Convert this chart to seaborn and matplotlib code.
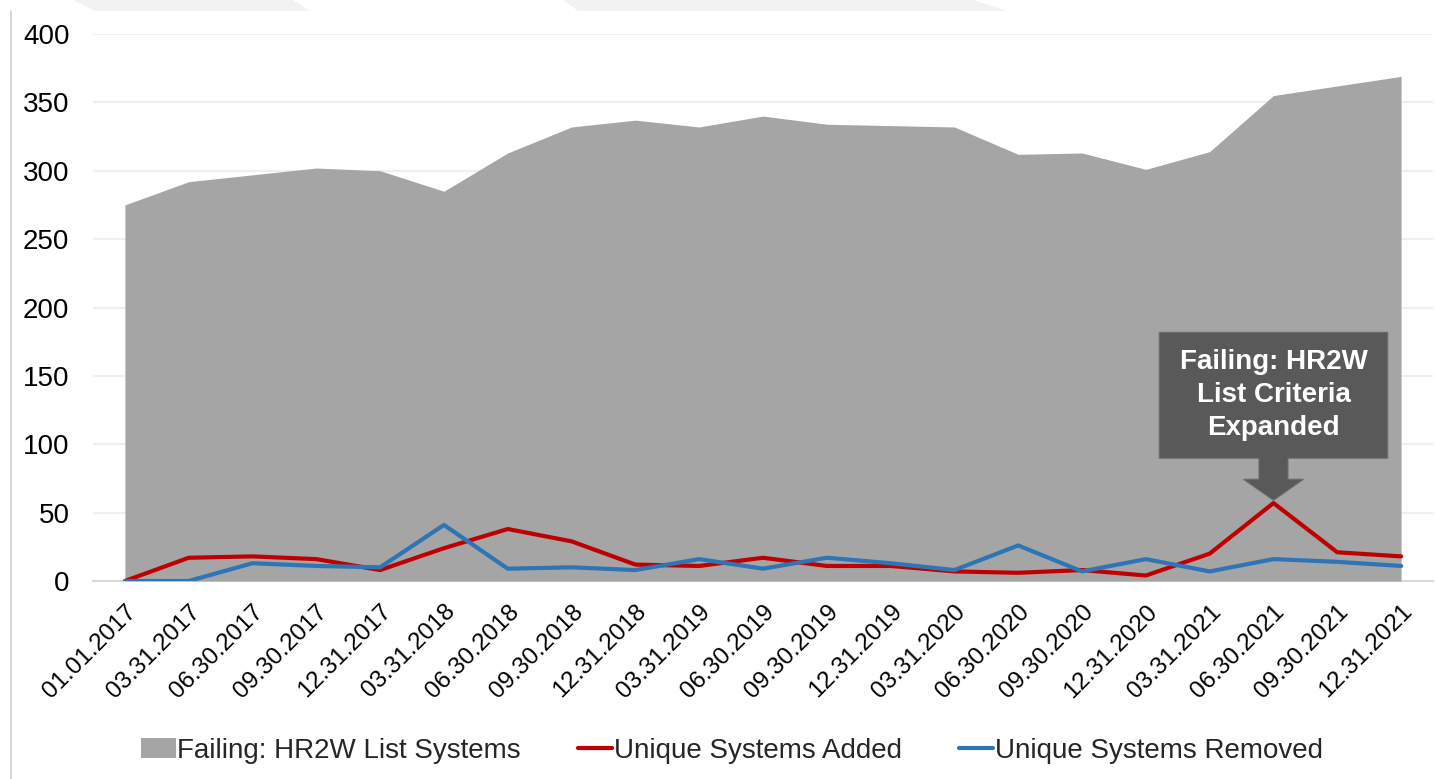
import matplotlib
matplotlib.use("Agg")
import matplotlib.pyplot as plt
from matplotlib.patches import Polygon, Patch
from matplotlib.lines import Line2D
import seaborn as sns
import pandas as pd
import numpy as np

# Quarter-end reporting dates
dates = ["01.01.2017", "03.31.2017", "06.30.2017", "09.30.2017", "12.31.2017",
         "03.31.2018", "06.30.2018", "09.30.2018", "12.31.2018",
         "03.31.2019", "06.30.2019", "09.30.2019", "12.31.2019",
         "03.31.2020", "06.30.2020", "09.30.2020", "12.31.2020",
         "03.31.2021", "06.30.2021", "09.30.2021", "12.31.2021"]

# Systems on the failing list at each date
failing = [275, 292, 297, 302, 300, 285, 313, 332, 337, 332, 340,
           334, 333, 332, 312, 313, 301, 314, 355, 362, 369]

# Systems added to / removed from the list during each quarter
added = [0, 17, 18, 16, 8, 24, 38, 29, 12, 11, 17,
         11, 11, 7, 6, 8, 4, 20, 57, 21, 18]
removed = [0, 0, 13, 11, 10, 41, 9, 10, 8, 16, 9,
           17, 13, 8, 26, 7, 16, 7, 16, 14, 11]

y_ticks = [0, 50, 100, 150, 200, 250, 300, 350, 400]

AREA = "#a5a5a5"
RED = "#c00000"
BLUE = "#2e75b6"
BOX = "#595959"
LW = 3.0

sns.set_theme(style="white")
plt.rcParams["font.family"] = ["Liberation Sans", "DejaVu Sans"]

df = pd.DataFrame({"date": dates, "failing": failing,
                   "added": added, "removed": removed})
df["pos"] = np.arange(len(df))

fig = plt.figure(figsize=(14.35, 7.79), dpi=100)
ax = fig.add_axes([93 / 1435, 198 / 779, 1340 / 1435, 547 / 779])

ax.fill_between(df["pos"], 0, df["failing"], color=AREA, linewidth=0, zorder=2)
sns.lineplot(data=df, x="pos", y="added", color=RED, linewidth=LW,
             ax=ax, zorder=3)
sns.lineplot(data=df, x="pos", y="removed", color=BLUE, linewidth=LW,
             ax=ax, zorder=3)

ax.set_xlim(-0.5, len(dates) - 0.5)
ax.set_ylim(0, 400)
ax.set_yticks(y_ticks)
ax.set_yticklabels([str(v) for v in y_ticks], fontsize=20, color="#000000")
ax.set_xticks(df["pos"])
ax.set_xticklabels(dates, fontsize=17.5, rotation=45, ha="right",
                   va="top", rotation_mode="anchor", color="#000000")
ax.tick_params(axis="y", length=0, pad=17)
ax.tick_params(axis="x", length=0, pad=14)
ax.set_xlabel("")
ax.set_ylabel("")
ax.grid(axis="y", color="#efefef", linewidth=1.5, zorder=0)
ax.set_axisbelow(True)
for side in ["top", "right", "left"]:
    ax.spines[side].set_visible(False)
ax.spines["bottom"].set_color("#d9d9d9")
ax.spines["bottom"].set_linewidth(1.5)
ax.spines["bottom"].set_zorder(1)

# Callout pointing at the peak of additions
peak = int(np.argmax(added))
tip_x, tip_y = peak, added[peak] + 2
head_w, shaft_w = 0.47, 0.227
head_h, shaft_h = 15.4, 15.4
box_w, box_h = 1.79, 92
base = tip_y + head_h + shaft_h
callout = Polygon([
    (tip_x, tip_y),
    (tip_x + head_w, tip_y + head_h),
    (tip_x + shaft_w, tip_y + head_h),
    (tip_x + shaft_w, base),
    (tip_x + box_w, base),
    (tip_x + box_w, base + box_h),
    (tip_x - box_w, base + box_h),
    (tip_x - box_w, base),
    (tip_x - shaft_w, base),
    (tip_x - shaft_w, tip_y + head_h),
    (tip_x - head_w, tip_y + head_h),
], closed=True, facecolor=BOX, edgecolor="#6b6b6b", linewidth=0.8, zorder=5)
ax.add_patch(callout)
ax.text(tip_x, base + box_h / 2, "Failing: HR2W\nList Criteria\nExpanded",
        color="white", fontsize=20, fontweight="bold", ha="center",
        va="center", linespacing=1.35, zorder=6)

# Legend along the bottom
handles = [Patch(facecolor=AREA, edgecolor="none"),
           Line2D([0], [0], color=RED, linewidth=LW),
           Line2D([0], [0], color=BLUE, linewidth=LW)]
labels = ["Failing: HR2W List Systems", "Unique Systems Added",
          "Unique Systems Removed"]
fig.legend(handles, labels, loc="center", bbox_to_anchor=(0.510, 0.036),
           ncol=3, frameon=False, fontsize=20, handlelength=1.25,
           handleheight=0.75, handletextpad=0.05, columnspacing=2.05)

# Decorative frame elements
fig.add_artist(Line2D([11 / 1435, 11 / 1435], [0, 1 - 11 / 779],
                      transform=fig.transFigure, color="#cfcfcf",
                      linewidth=1.2))
for pts in ([(73, 0), (293, 0), (310, 11), (95, 11)],
            [(563, 0), (973, 0), (1007, 11), (578, 11)]):
    fig.add_artist(Polygon([(x / 1435, 1 - y / 779) for x, y in pts],
                           closed=True, transform=fig.transFigure,
                           facecolor="#f2f2f2", edgecolor="none"))

fig.savefig("out.png", dpi=100, facecolor="white")
